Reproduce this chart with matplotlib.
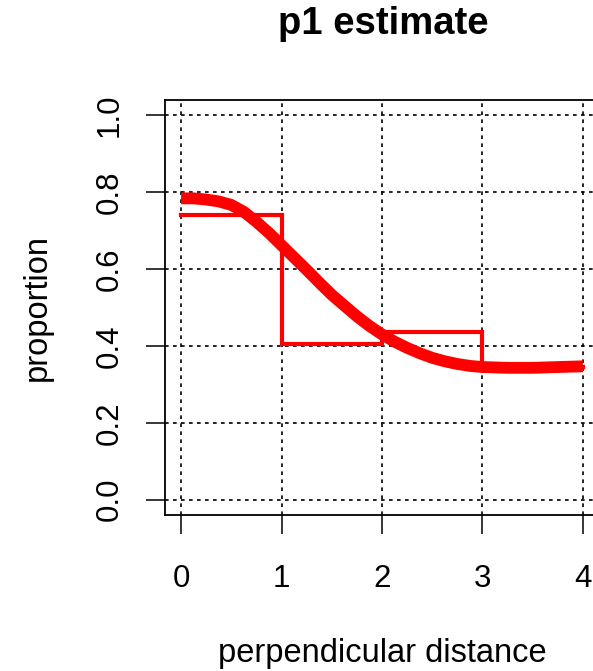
import numpy as np
from matplotlib import pyplot as plt

plt.rcParams['font.family'] = ['Liberation Sans', 'DejaVu Sans']

# smooth fitted curve
curve_x = [0, 0.125, 0.25, 0.375, 0.5, 0.625, 0.75, 0.875, 1.0, 1.125, 1.25, 1.375,
           1.5, 1.625, 1.75, 1.875, 2.0, 2.125, 2.25, 2.375, 2.5, 2.625, 2.75, 2.875,
           3.0, 3.25, 3.5, 3.75, 4.0]
curve_y = [0.784, 0.784, 0.781, 0.776, 0.767, 0.749, 0.723, 0.694, 0.662, 0.630,
           0.598, 0.565, 0.533, 0.505, 0.477, 0.452, 0.430, 0.411, 0.395, 0.381,
           0.369, 0.360, 0.353, 0.348, 0.345, 0.343, 0.343, 0.345, 0.347]

# binned proportions
bin_edges = [0, 1, 2, 3, 4]
bin_props = [0.741, 0.404, 0.436, 0.345]

xticks = [0, 1, 2, 3, 4]
yticks = [0.0, 0.2, 0.4, 0.6, 0.8, 1.0]

fig = plt.figure(figsize=(5.93, 6.71), dpi=100)
ax = fig.add_axes([165/593, 1 - 515/671, 434/593, 415/671])

# step line drawn as in R type="s"
sx = [bin_edges[0]]
sy = [bin_props[0]]
for k in range(1, len(bin_props)):
    sx += [bin_edges[k], bin_edges[k]]
    sy += [bin_props[k-1], bin_props[k]]
sx.append(bin_edges[-1])
sy.append(bin_props[-1])
ax.plot(sx, sy, color='red', lw=3.0, solid_joinstyle='miter', zorder=3)

ax.plot(curve_x, curve_y, color='red', lw=8.5, solid_capstyle='butt',
        solid_joinstyle='round', zorder=4)

ax.set_xlim(-0.16, 4.16)
ax.set_ylim(-0.04, 1.04)
ax.set_xticks(xticks)
ax.set_yticks(yticks)
ax.set_xticklabels([str(v) for v in xticks])
ax.set_yticklabels(['%.1f' % v for v in yticks], rotation=90, va='center')

ax.tick_params(direction='out', length=14, width=1.1, labelsize=22.5, color='black')
ax.tick_params(axis='x', pad=21)
ax.tick_params(axis='y', pad=15)

ax.grid(True, color='black', linestyle=(0, (2.2, 2.6)), linewidth=1.2)
ax.set_axisbelow(True)
for s in ax.spines.values():
    s.set_linewidth(1.3)

ax.set_xlabel('perpendicular distance', fontsize=23.5, labelpad=32)
ax.set_ylabel('proportion', fontsize=23.5, labelpad=30)
fig.text(383/593, 1 - 24/671, 'p1 estimate', fontsize=27.5, fontweight='bold',
         ha='center', va='center')

fig.savefig('out.png', dpi=100)
